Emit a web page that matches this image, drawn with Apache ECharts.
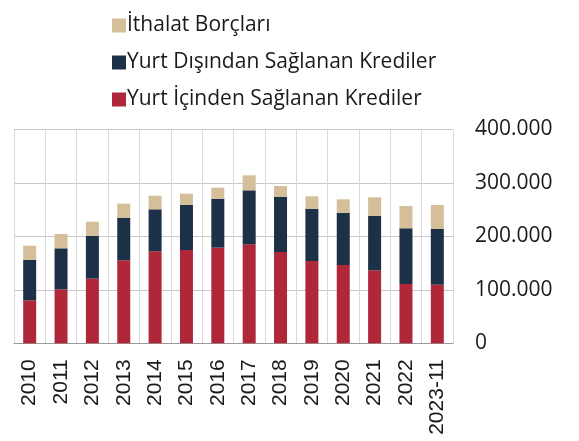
<!DOCTYPE html>
<html>
<head>
<meta charset="utf-8">
<script src="https://cdn.jsdelivr.net/npm/echarts@6/dist/echarts.min.js"></script>
<style>
html,body{margin:0;padding:0;background:#fff;}
#chart{width:579px;height:441px;}
</style>
</head>
<body>
<div id="chart"></div>
<script>
// kategoriler ve seriler (bin)
var years = ['2010','2011','2012','2013','2014','2015','2016','2017','2018','2019','2020','2021','2022','2023-11'];
var yurtIci = [80400, 101000, 120900, 155300, 172100, 174600, 178900, 185200, 170800, 154000, 146500, 136600, 110900, 109600];
var yurtDisi = [75400, 76700, 79800, 79700, 78600, 84100, 91600, 101000, 103500, 97800, 97800, 102100, 104300, 104200];
var ithalat = [26800, 26800, 26800, 26200, 25400, 21200, 20600, 28100, 20000, 23200, 25100, 34500, 41700, 44900];
var yTicks = [0, 100000, 200000, 300000, 400000];

var names = ['İthalat Borçları', 'Yurt Dışından Sağlanan Krediler', 'Yurt İçinden Sağlanan Krediler'];

function fmt(v) {
    return String(v).replace(/\B(?=(\d{3})+(?!\d))/g, '.');
}

var option = {
    animation: false,
    legend: {
        orient: 'vertical',
        left: 107,
        top: 10,
        itemWidth: 14,
        itemHeight: 14,
        itemGap: 16,
        icon: 'rect',
        data: names,
        textStyle: {fontFamily: 'Open Sans', fontSize: 21, color: '#1a1a1a', padding: [0, 0, 0, -4]}
    },
    grid: {left: 14, right: 126, top: 129.5, bottom: 97.7},
    xAxis: {
        type: 'category',
        data: years,
        axisLine: {lineStyle: {color: '#999'}},
        axisTick: {length: 6, lineStyle: {color: '#999'}},
        splitLine: {show: true, lineStyle: {color: '#d9d9d9'}},
        axisLabel: {rotate: 90, margin: 16, fontFamily: 'Liberation Sans', fontSize: 21, color: '#1a1a1a'}
    },
    yAxis: {
        type: 'value',
        position: 'right',
        min: yTicks[0],
        max: yTicks[yTicks.length - 1],
        interval: 100000,
        axisLine: {show: false},
        axisTick: {show: false},
        splitLine: {lineStyle: {color: '#c8c8c8'}},
        axisLabel: {margin: 22, fontFamily: 'Open Sans', fontSize: 21, color: '#1a1a1a', formatter: fmt}
    },
    series: [
        {name: names[2], type: 'bar', stack: 'a', barWidth: 13, data: yurtIci, itemStyle: {color: '#b1273a'}},
        {name: names[1], type: 'bar', stack: 'a', barWidth: 13, data: yurtDisi, itemStyle: {color: '#1c3047'}},
        {name: names[0], type: 'bar', stack: 'a', barWidth: 13, data: ithalat, itemStyle: {color: '#d5bf9b'}}
    ]
};

var chart = echarts.init(document.getElementById('chart'));
chart.setOption(option);
</script>
</body>
</html>
